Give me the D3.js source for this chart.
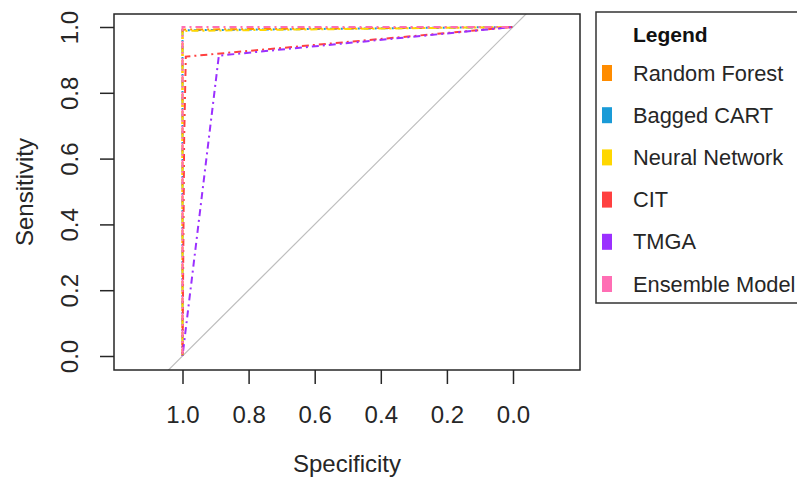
<!DOCTYPE html>
<html><head><meta charset="utf-8">
<script src="https://cdn.jsdelivr.net/npm/d3@7"></script>
<style>html,body{margin:0;padding:0;background:#fff;}svg{display:block;font-family:"Liberation Sans",Arial,sans-serif;}</style>
</head><body><svg id="c" width="797" height="480"></svg>
<script>
const seriesNames = ["Random Forest","Bagged CART","Neural Network","CIT","TMGA","Ensemble Model"];
const seriesColors = ["#FF8C00","#1A9BD7","#FFD700","#FF4040","#9B30FF","#FF6EB4"];
// ROC points as [specificity, sensitivity]
const rfSpec = [1, 1, 0], rfSens = [0, 0.992, 1];
const bagSpec = [1, 1, 0], bagSens = [0, 0.99, 1];
const nnSpec = [1, 1, 0], nnSens = [0, 0.988, 1];
const citSpec = [1, 0.995, 0.99, 0], citSens = [0, 0.66, 0.91, 1];
const tmgaSpec = [1, 0.89, 0], tmgaSens = [0, 0.913, 1];
const ensSpec = [1, 1, 0], ensSens = [0, 1, 1];
const xTicks = [1.0, 0.8, 0.6, 0.4, 0.2, 0.0];
const yTicks = [0.0, 0.2, 0.4, 0.6, 0.8, 1.0];

const svg = d3.select("#c");
const box = {l:114, r:580, t:14, b:370};
const x = d3.scaleLinear().domain([1,0]).range([182.5,513]);
const y = d3.scaleLinear().domain([0,1]).range([356,27]);
const ink = "#262626";

svg.append("defs").append("clipPath").attr("id","clip")
  .append("rect").attr("x",box.l).attr("y",box.t).attr("width",box.r-box.l).attr("height",box.b-box.t);

// diagonal reference line
svg.append("line").attr("clip-path","url(#clip)")
  .attr("x1",x(1.2)).attr("y1",y(-0.2)).attr("x2",x(-0.2)).attr("y2",y(1.2))
  .attr("stroke","#BEBEBE").attr("stroke-width",1.2);

const curves = [
  [rfSpec,rfSens],[bagSpec,bagSens],[nnSpec,nnSens],[citSpec,citSens],[tmgaSpec,tmgaSens],[ensSpec,ensSens]
];
const line = d3.line().x(d=>x(d[0])).y(d=>y(d[1]));
const order = [1,0,2,3,4,5];
order.forEach(i=>{
  const pts = curves[i][0].map((s,k)=>[s,curves[i][1][k]]);
  svg.append("path").attr("d",line(pts)).attr("fill","none")
    .attr("stroke",seriesColors[i]).attr("stroke-width",2)
    .attr("stroke-dasharray","7,4,2,4").attr("stroke-dashoffset", i*3)
    .attr("clip-path","url(#clip)");
});

// box
svg.append("rect").attr("x",box.l).attr("y",box.t).attr("width",box.r-box.l).attr("height",box.b-box.t)
  .attr("fill","none").attr("stroke",ink).attr("stroke-width",1.5);

// x axis
const xa = svg.append("g").attr("transform",`translate(0,${box.b})`)
  .call(d3.axisBottom(x).tickValues(xTicks).tickFormat(d3.format(".1f")).tickSize(14).tickPadding(0));
xa.select(".domain").remove();
xa.selectAll("line").attr("stroke",ink).attr("stroke-width",1.5);
xa.selectAll("text").attr("font-size",24).attr("fill",ink).attr("font-family",null)
  .attr("y",45).attr("dy","0.35em");

// y axis
const ya = svg.append("g").attr("transform",`translate(${box.l},0)`)
  .call(d3.axisLeft(y).tickValues(yTicks).tickFormat(d3.format(".1f")).tickSize(14).tickPadding(0));
ya.select(".domain").remove();
ya.selectAll("line").attr("stroke",ink).attr("stroke-width",1.5);
ya.selectAll("text").attr("font-size",24).attr("fill",ink).attr("font-family",null)
  .attr("x",0).attr("dy",null).attr("text-anchor","middle").attr("dominant-baseline","central")
  .attr("transform","translate(-45,0) rotate(-90)");

svg.append("text").attr("x",(box.l+box.r)/2).attr("y",box.b+93).attr("text-anchor","middle")
  .attr("dominant-baseline","central").attr("font-size",24).attr("fill",ink).text("Specificity");
svg.append("text").attr("transform",`translate(${box.l-90},${(box.t+box.b)/2}) rotate(-90)`)
  .attr("text-anchor","middle").attr("dominant-baseline","central")
  .attr("font-size",24).attr("fill",ink).text("Sensitivity");

// legend
const lg = svg.append("g");
lg.append("rect").attr("x",596).attr("y",12).attr("width",240).attr("height",291)
  .attr("fill","#fff").attr("stroke","#333").attr("stroke-width",1.5);
lg.append("text").attr("x",633).attr("y",34).attr("dominant-baseline","central")
  .attr("font-size",21).attr("font-weight","bold").attr("fill","#111").text("Legend");
seriesNames.forEach((n,i)=>{
  const cy = 73 + i*42.2;
  lg.append("rect").attr("x",602).attr("y",cy-8).attr("width",10).attr("height",16).attr("fill",seriesColors[i]);
  lg.append("text").attr("x",633).attr("y",cy).attr("dominant-baseline","central")
    .attr("font-size",21.8).attr("fill",ink).text(n);
});
</script></body></html>
